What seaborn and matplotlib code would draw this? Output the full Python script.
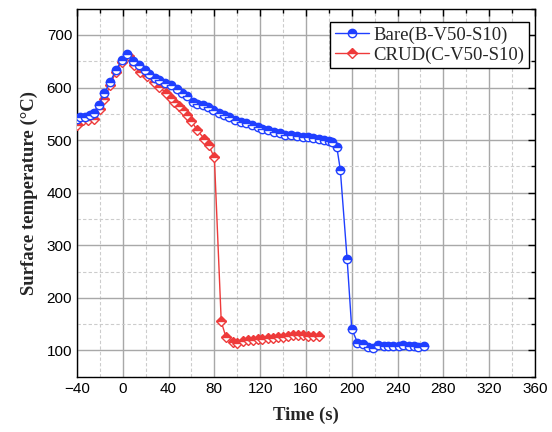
import numpy as np
import pandas as pd
import matplotlib
matplotlib.use("Agg")
import matplotlib.pyplot as plt
import seaborn as sns
from matplotlib.ticker import MultipleLocator

# Bare (B-V50-S10)
bare_time = [-40, -37, -33, -29, -25, -21, -16, -11, -6, -1, 4, 9, 14, 19, 23, 28, 32, 37,
             42, 47, 52, 56, 61, 65, 70, 74, 79, 84, 88, 93, 98, 103, 108, 113, 118, 122,
             127, 132, 137, 142, 147, 152, 157, 162, 166, 171, 176, 180, 183, 187, 190,
             196, 200, 205, 210, 214, 219, 223, 228, 232, 236, 241, 245, 250, 254, 258, 263]
bare_temp = [541, 543, 544, 547, 552, 567, 589, 611, 633, 652, 664, 651, 643, 633, 626, 619,
             614, 609, 604, 598, 589, 583, 573, 569, 566, 563, 557, 552, 548, 544, 539, 535,
             532, 529, 525, 522, 519, 516, 513, 510, 510, 508, 506, 505, 504, 502, 501, 499,
             497, 486, 444, 273, 141, 115, 112, 107, 105, 111, 109, 108, 108, 109, 110, 108,
             108, 107, 108]

# CRUD (C-V50-S10)
crud_time = [-40, -35, -30, -25, -20, -16, -11, -6, -1, 5, 10, 15, 21, 27, 32, 38, 42, 45,
             49, 53, 56, 60, 65, 71, 75, 80, 86, 90, 96, 100, 105, 109, 114, 118, 122, 127,
             131, 136, 140, 144, 149, 153, 157, 162, 166, 171]
crud_temp = [529, 538, 538, 541, 560, 579, 605, 630, 649, 659, 643, 630, 621, 611, 601, 589,
             581, 573, 565, 557, 548, 536, 519, 503, 490, 467, 155, 126, 116, 115, 118, 119,
             120, 122, 122, 123, 124, 125, 126, 128, 129, 130, 129, 127, 128, 128]

labels = ["Bare(B-V50-S10)", "CRUD(C-V50-S10)"]

sns.set_style("white")
plt.rcParams["font.family"] = ["Liberation Sans", "DejaVu Sans"]

fig = plt.figure(figsize=(5.52, 4.32), dpi=100)
ax = fig.add_axes([0.1395, 0.128, 0.8295, 0.852])

bare = pd.DataFrame({"t": bare_time, "T": bare_temp})
crud = pd.DataFrame({"t": crud_time, "T": crud_temp})

blue = "#1f3fff"
red = "#ee3a3a"

sns.lineplot(data=bare, x="t", y="T", ax=ax, sort=False, errorbar=None, color=blue,
             lw=1.0, marker="o", markersize=6, fillstyle="top", markerfacecoloralt="white",
             markeredgecolor=blue, markeredgewidth=1.0, label=labels[0], zorder=4)
sns.lineplot(data=crud, x="t", y="T", ax=ax, sort=False, errorbar=None, color=red,
             lw=1.0, marker="D", markersize=5, fillstyle="top", markerfacecoloralt="white",
             markeredgecolor=red, markeredgewidth=1.0, label=labels[1], zorder=3)

ax.set_xlim(-40, 360)
ax.set_ylim(50, 750)
ax.xaxis.set_major_locator(MultipleLocator(40))
ax.xaxis.set_minor_locator(MultipleLocator(20))
ax.yaxis.set_major_locator(MultipleLocator(100))
ax.yaxis.set_minor_locator(MultipleLocator(50))
ax.set_yticks([100, 200, 300, 400, 500, 600, 700])

ax.grid(which="major", color="#a8a8a8", lw=1.0, ls="-")
ax.grid(which="minor", color="#cccccc", lw=0.8, ls=(0, (3, 2)))
ax.set_axisbelow(True)

ax.tick_params(which="both", direction="in", top=True, right=True, labelsize=11,
               colors="black")
ax.tick_params(which="major", length=5, width=1)
ax.tick_params(which="minor", length=3, width=1)
ax.set_xticks(np.arange(-40, 361, 40))
ax.set_xticklabels(["\u221240"] + [str(v) for v in range(0, 361, 40)])
for s in ax.spines.values():
    s.set_color("black")
    s.set_linewidth(1.0)

ax.set_xlabel("Time (s)", fontsize=13.5, fontweight="bold", family="Liberation Serif",
              labelpad=8)
ax.set_ylabel("Surface temperature (\u00b0C)", fontsize=13.5, fontweight="bold",
              family="Liberation Serif", labelpad=6)

leg = ax.legend(loc="upper right", bbox_to_anchor=(0.987, 0.965), frameon=True,
                fancybox=False, edgecolor="black",
                prop={"family": "Liberation Serif", "size": 13.5}, borderaxespad=0,
                handlelength=1.8, handletextpad=0.25, labelspacing=0.15, borderpad=0.25)
leg.get_frame().set_linewidth(1.0)
leg.get_frame().set_alpha(1)

fig.savefig("out.png", dpi=100)
